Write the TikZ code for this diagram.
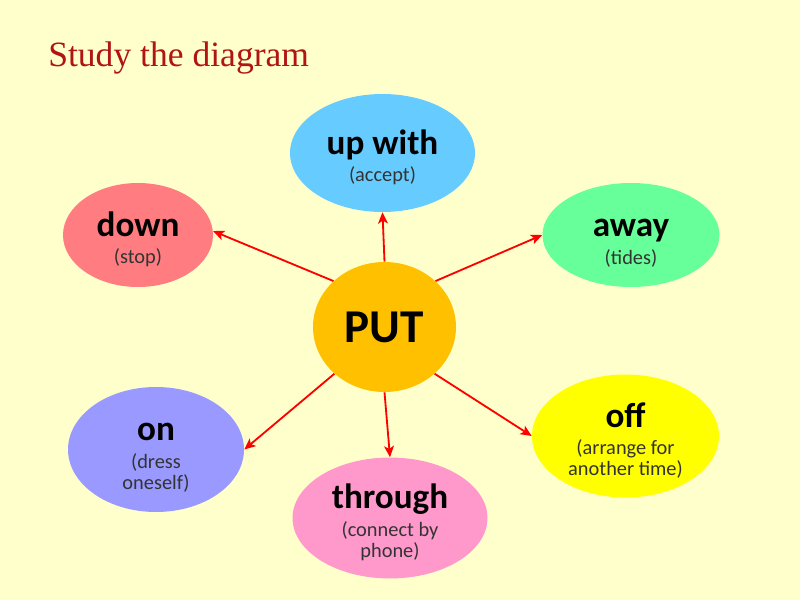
\documentclass[tikz,border=0pt]{standalone}
\usepackage{fontspec}
\setmainfont{Carlito}
\newfontfamily\titlefont{Liberation Serif}
\usepackage{tikz}
\usetikzlibrary{shapes.geometric, arrows.meta}

\definecolor{paper}{HTML}{FFFFCC}
\definecolor{titlered}{HTML}{B01414}
\definecolor{putorange}{HTML}{FFC000}
\definecolor{skyblue}{HTML}{66CCFF}
\definecolor{salmon}{HTML}{FF7C80}
\definecolor{mint}{HTML}{66FF99}
\definecolor{lavender}{HTML}{9999FF}
\definecolor{pinkish}{HTML}{FF99CC}
\definecolor{lemon}{HTML}{FFFF00}
\definecolor{glossgray}{HTML}{333333}

\newcommand{\headword}[1]{{\fontsize{25}{28}\selectfont\bfseries\rule{0pt}{24pt}#1}}
\newcommand{\gloss}[1]{{\fontsize{14.5}{15}\selectfont\color{glossgray}#1}}

\begin{document}
\begin{tikzpicture}[
    bubble/.style={ellipse, inner sep=0pt, align=center, font=\fontsize{14.5}{15}\selectfont},
    link/.style={draw=red, line width=1.3pt, -{Stealth[length=8pt, width=7pt, inset=2pt]}}
]
\fill[paper] (0,0) rectangle (20,15);
\useasboundingbox (0,0) rectangle (20,15);

\node[anchor=base west, inner sep=0pt, text=titlered, font=\titlefont\fontsize{25.3}{28}\selectfont] (title) at (1.2,13.325) {Study the diagram};

\node[bubble, fill=putorange, minimum width=3.575cm, minimum height=3.25cm] (put) at (9.6125,6.825)
    {\fontsize{33.5}{36}\selectfont\bfseries PUT};
\node[bubble, fill=skyblue, minimum width=4.625cm, minimum height=2.95cm] (upwith) at (9.5625,11.175)
    {\headword{up with}\\[4.5pt]\gloss{(accept)}};
\node[bubble, fill=salmon, minimum width=3.75cm, minimum height=2.6cm] (down) at (3.45,9.125)
    {\headword{down}\\[4.5pt]\gloss{(stop)}};
\node[bubble, fill=mint, minimum width=4.425cm, minimum height=2.6cm] (away) at (15.775,9.125)
    {\headword{away}\\[4.5pt]\gloss{(tides)}};
\node[bubble, fill=lavender, minimum width=4.4cm, minimum height=3.125cm] (on) at (3.9,3.7625)
    {\headword{on}\\[4.5pt]\gloss{(dress}\\\gloss{oneself)}};
\node[bubble, fill=pinkish, minimum width=4.875cm, minimum height=2.75cm] (through) at (9.75,2.05)
    {\headword{through}\\[4.5pt]\gloss{(connect by}\\\gloss{phone)}};
\node[bubble, fill=lemon, minimum width=4.675cm, minimum height=3.075cm] (off) at (15.6375,4.1)
    {\headword{off}\\[4.5pt]\gloss{(arrange for}\\\gloss{another time)}};

\draw[link] (put.138) -- (down.3);
\draw[link] (put.90) -- (upwith.270);
\draw[link] (put.42) -- (away.180);
\draw[link] (put.-43) -- (off.180);
\draw[link] (put.223) -- (on.0);
\draw[link] (put.270) -- (through.90);
\end{tikzpicture}
\end{document}
